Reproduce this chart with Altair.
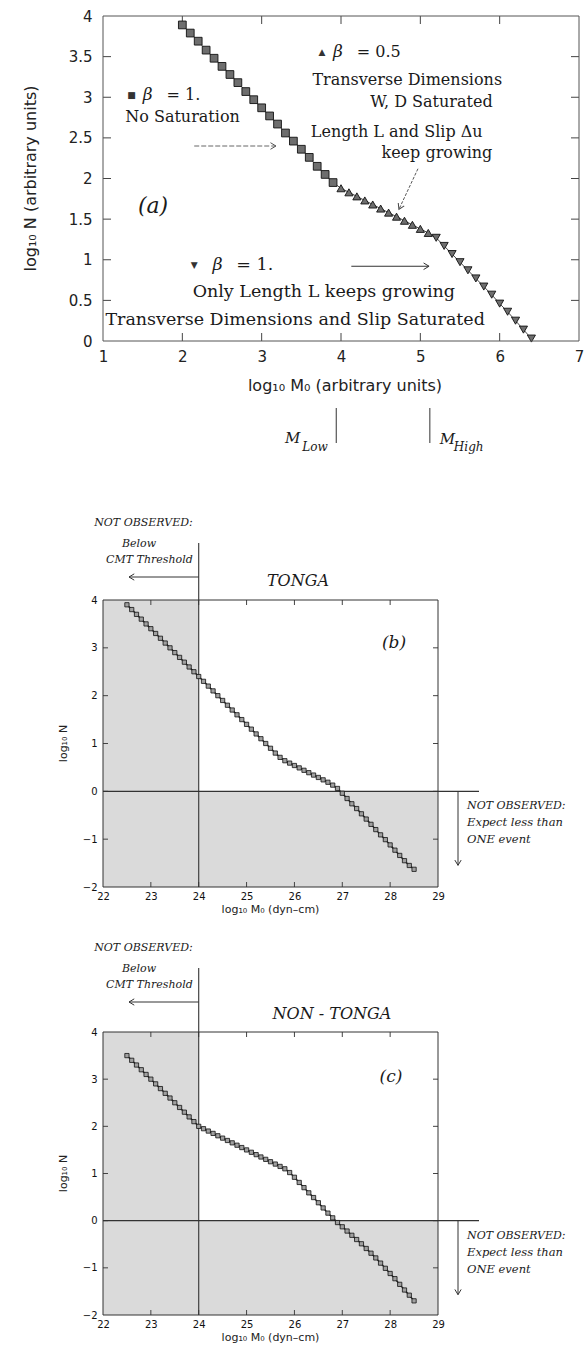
import altair as alt
import pandas as pd

# ---------------- Panel (a): model curves, arbitrary units ----------------
a_sq_x = [2.0, 2.1, 2.2, 2.3, 2.4, 2.5, 2.6, 2.7, 2.8, 2.9, 3.0, 3.1, 3.2, 3.3, 3.4, 3.5, 3.6, 3.7, 3.8, 3.9]
a_sq_y = [3.89, 3.79, 3.69, 3.58, 3.48, 3.38, 3.28, 3.18, 3.07, 2.97, 2.87, 2.77, 2.67, 2.56, 2.46, 2.36, 2.26, 2.15, 2.05, 1.95]
a_up_x = [4.0, 4.1, 4.2, 4.3, 4.4, 4.5, 4.6, 4.7, 4.8, 4.9, 5.0, 5.1]
a_up_y = [1.88, 1.83, 1.78, 1.73, 1.68, 1.63, 1.58, 1.53, 1.48, 1.43, 1.38, 1.33]
a_dn_x = [5.2, 5.3, 5.4, 5.5, 5.6, 5.7, 5.8, 5.9, 6.0, 6.1, 6.2, 6.3, 6.4]
a_dn_y = [1.27, 1.17, 1.07, 0.97, 0.87, 0.77, 0.67, 0.57, 0.46, 0.36, 0.25, 0.14, 0.03]
a_x_ticks = [1, 2, 3, 4, 5, 6, 7]
a_y_ticks = [0, 0.5, 1, 1.5, 2, 2.5, 3, 3.5, 4]
m_low = 3.94
m_high = 5.12

# ---------------- Panels (b), (c): log10 M0 (dyn-cm) ----------------
tonga_x = [22.5, 22.6, 22.7, 22.8, 22.9, 23.0, 23.1, 23.2, 23.3, 23.4,
           23.5, 23.6, 23.7, 23.8, 23.9, 24.0, 24.1, 24.2, 24.3, 24.4,
           24.5, 24.6, 24.7, 24.8, 24.9, 25.0, 25.1, 25.2, 25.3, 25.4,
           25.5, 25.6, 25.7, 25.8, 25.9, 26.0, 26.1, 26.2, 26.3, 26.4,
           26.5, 26.6, 26.7, 26.8, 26.9, 27.0, 27.1, 27.2, 27.3, 27.4,
           27.5, 27.6, 27.7, 27.8, 27.9, 28.0, 28.1, 28.2, 28.3, 28.4, 28.5]
tonga_y = [3.90, 3.80, 3.70, 3.60, 3.50, 3.40, 3.30, 3.20, 3.10, 3.00,
           2.90, 2.80, 2.70, 2.60, 2.50, 2.40, 2.30, 2.20, 2.10, 2.00,
           1.90, 1.80, 1.70, 1.60, 1.50, 1.40, 1.30, 1.20, 1.10, 1.00,
           0.90, 0.80, 0.71, 0.64, 0.59, 0.54, 0.49, 0.44, 0.39, 0.34,
           0.29, 0.24, 0.19, 0.13, 0.06, -0.04, -0.15, -0.26, -0.36, -0.47,
           -0.58, -0.69, -0.80, -0.91, -1.01, -1.12, -1.23, -1.34, -1.45, -1.55, -1.63]
nontonga_x = list(tonga_x)
nontonga_y = [3.50, 3.40, 3.30, 3.20, 3.10, 3.00, 2.90, 2.80, 2.70, 2.60,
              2.50, 2.40, 2.30, 2.20, 2.10, 2.00, 1.95, 1.90, 1.85, 1.80,
              1.75, 1.70, 1.65, 1.60, 1.55, 1.50, 1.45, 1.40, 1.35, 1.30,
              1.25, 1.20, 1.15, 1.10, 1.02, 0.92, 0.81, 0.70, 0.59, 0.49,
              0.38, 0.27, 0.16, 0.06, -0.04, -0.13, -0.22, -0.31, -0.40, -0.49,
              -0.59, -0.69, -0.79, -0.90, -1.01, -1.12, -1.23, -1.35, -1.47, -1.58, -1.70]
bc_x_ticks = [22, 23, 24, 25, 26, 27, 28, 29]
bc_y_ticks = [-2, -1, 0, 1, 2, 3, 4]
bc_x_domain = [22, 29]
bc_y_domain = [-2, 4]
cmt_threshold = 24
one_event = 0

# ---------------- styling ----------------
SANS = "DejaVu Sans"
SERIF = "DejaVu Serif"
INK = "#1a1a1a"
FRAME = "#444444"
SHADE = "#dadada"
CHEV = "M-1,-0.6L0,0L-1,0.6"
one = pd.DataFrame({"k": [0]})


def txt(s, x, y, size, font=SERIF, style="normal", align="left", baseline="middle", angle=0, color=INK):
    return alt.Chart(one).mark_text(text=s, align=align, baseline=baseline, fontSize=size, font=font,
                                    fontStyle=style, angle=angle, color=color).encode(
        x=alt.value(x), y=alt.value(y))


def seg(x1, y1, x2, y2, color=INK, width=1.0, dash=None):
    kw = dict(color=color, strokeWidth=width)
    if dash:
        kw["strokeDash"] = dash
    return alt.Chart(one).mark_rule(**kw).encode(x=alt.value(x1), y=alt.value(y1),
                                                 x2=alt.value(x2), y2=alt.value(y2))


def head(x, y, angle, color=INK, size=170):
    return alt.Chart(one).mark_point(shape=CHEV, filled=False, stroke=color, strokeWidth=1,
                                     size=size, angle=angle, opacity=1).encode(
        x=alt.value(x), y=alt.value(y))


def box(x1, y1, x2, y2, **kw):
    return alt.Chart(one).mark_rect(**kw).encode(x=alt.value(x1), y=alt.value(y1),
                                                 x2=alt.value(x2), y2=alt.value(y2))


def ticks_layers(xs, ys, X, Y, W, H, L, color=FRAME):
    dx = pd.DataFrame({"v": xs})
    dy = pd.DataFrame({"v": ys})
    return [
        alt.Chart(dx).mark_rule(color=color, strokeWidth=1).encode(x=X("v"), y=alt.value(0), y2=alt.value(L)),
        alt.Chart(dx).mark_rule(color=color, strokeWidth=1).encode(x=X("v"), y=alt.value(H - L), y2=alt.value(H)),
        alt.Chart(dy).mark_rule(color=color, strokeWidth=1).encode(y=Y("v"), x=alt.value(0), x2=alt.value(L)),
        alt.Chart(dy).mark_rule(color=color, strokeWidth=1).encode(y=Y("v"), x=alt.value(W - L), x2=alt.value(W)),
    ]


# ================= Panel (a) =================
W_A, H_A = 476, 325


def pxa(x):
    return (x - 1) / 6 * W_A


def pya(y):
    return (4 - y) / 4 * H_A


a_xs = alt.Scale(domain=[1, 7], nice=False, zero=False)
a_ys = alt.Scale(domain=[0, 4], nice=False, zero=False)
a_xax = alt.Axis(values=a_x_ticks, title=None, ticks=False, domain=False, grid=False, labelFlush=False,
                 labelPadding=8, labelFont=SANS, labelFontSize=15, labelColor="#222", format="~g")
a_yax = alt.Axis(values=a_y_ticks, title=None, ticks=False, domain=False, grid=False, labelFlush=False,
                 labelPadding=11, labelFont=SANS, labelFontSize=15, labelColor="#222", format="~g")


def XA(f):
    return alt.X(f, type="quantitative", scale=a_xs, axis=a_xax)


def YA(f):
    return alt.Y(f, type="quantitative", scale=a_ys, axis=a_yax)


a_all = pd.DataFrame({"x": a_sq_x + a_up_x + a_dn_x, "y": a_sq_y + a_up_y + a_dn_y})
a_line = alt.Chart(a_all).mark_line(color=INK, strokeWidth=0.8).encode(x=XA("x"), y=YA("y"))


def a_pts(xs, ys, shape, size):
    return alt.Chart(pd.DataFrame({"x": xs, "y": ys})).mark_point(
        shape=shape, filled=True, fill="#6e6e6e", stroke="#111", strokeWidth=0.9, size=size, opacity=1
    ).encode(x=XA("x"), y=YA("y"))


LOW_FS = 17.5
a_layers = [
    box(-100, -15, -99, 482, color="white"),
    *ticks_layers(a_x_ticks[1:-1], a_y_ticks[1:-1], XA, YA, W_A, H_A, 8),
    a_line,
    a_pts(a_sq_x, a_sq_y, "square", 60),
    a_pts(a_up_x, a_up_y, "triangle-up", 66),
    a_pts(a_dn_x, a_dn_y, "triangle-down", 66),
    box(0, 0, W_A, H_A, fillOpacity=0, stroke="#555", strokeWidth=1),
    # beta = 0.5 block
    txt("▲", pxa(3.76), pya(3.56), 9, font=SANS, align="center", color="#333"),
    txt("β", pxa(3.90), pya(3.56), 17, style="italic"),
    txt("=  0.5", pxa(4.20), pya(3.56), 16),
    txt("Transverse Dimensions", pxa(3.64), pya(3.21), 16),
    txt("W, D Saturated", pxa(4.37), pya(2.94), 16),
    txt("Length L and Slip Δu", pxa(3.62), pya(2.57), 16),
    txt("keep growing", pxa(4.51), pya(2.31), 16),
    seg(pxa(4.97), pya(2.12), pxa(4.73), pya(1.62), color="#444", width=0.9, dash=[3, 1.5]),
    head(pxa(4.73), pya(1.62), 115, color="#444", size=120),
    # beta = 1 (no saturation)
    txt("■", pxa(1.36), pya(3.03), 9, font=SANS, align="center", color="#333"),
    txt("β", pxa(1.50), pya(3.03), 17, style="italic"),
    txt("=  1.", pxa(1.80), pya(3.03), 16),
    txt("No Saturation", pxa(1.28), pya(2.76), 16),
    seg(pxa(2.15), pya(2.40), pxa(3.18), pya(2.40), color="#555", width=0.9, dash=[5, 2]),
    head(pxa(3.18), pya(2.40), 0, color="#555", size=120),
    txt("(a)", pxa(1.44), pya(1.66), 22, style="italic"),
    # beta = 1 (length only)
    txt("▼", pxa(2.15), pya(0.93), 9, font=SANS, align="center", color="#333"),
    txt("β", pxa(2.38), pya(0.93), 17.5, style="italic"),
    txt("=  1.", pxa(2.68), pya(0.93), LOW_FS),
    seg(pxa(4.13), pya(0.92), pxa(5.11), pya(0.92), color="#333", width=1),
    head(pxa(5.11), pya(0.92), 0, color="#333", size=120),
    txt("Only Length L keeps growing", pxa(2.13), pya(0.60), LOW_FS),
    txt("Transverse Dimensions and Slip Saturated", pxa(1.03), pya(0.26), LOW_FS),
    # axis titles
    txt("log₁₀ N (arbitrary units)", -72, H_A / 2, 16, font=SANS, align="center", angle=270, color="#222"),
    txt("log₁₀ M₀ (arbitrary units)", W_A / 2 + 4, H_A + 45, 16, font=SANS, align="center", color="#222"),
    # M_Low / M_High markers
    seg(pxa(m_low), H_A + 67, pxa(m_low), H_A + 102, color="#333", width=1),
    seg(pxa(m_high), H_A + 67, pxa(m_high), H_A + 102, color="#333", width=1),
    txt("M", pxa(m_low) - 36, H_A + 97, 15, style="italic", align="right"),
    txt("Low", pxa(m_low) - 34, H_A + 106, 12, style="italic"),
    txt("M", pxa(m_high) + 10, H_A + 98, 15, style="italic"),
    txt("High", pxa(m_high) + 24, H_A + 106, 12, style="italic"),
]
panel_a = alt.layer(*a_layers).properties(width=W_A, height=H_A)


# ================= Panels (b) and (c) =================
def panel_bc(xs, ys, W, H, name, name_x, name_y, tag, tag_x, tag_y, top_y, bottom_extent):
    xsc = alt.Scale(domain=bc_x_domain, nice=False, zero=False)
    ysc = alt.Scale(domain=bc_y_domain, nice=False, zero=False)
    xax = alt.Axis(values=bc_x_ticks, title=None, ticks=False, domain=False, grid=False, labelFlush=False,
                   labelPadding=4, labelFont=SANS, labelFontSize=10, labelColor="#111", format="d")
    yax = alt.Axis(values=bc_y_ticks, title=None, ticks=False, domain=False, grid=False, labelFlush=False,
                   labelPadding=6, labelFont=SANS, labelFontSize=10, labelColor="#111", format="d")

    def X(f):
        return alt.X(f, type="quantitative", scale=xsc, axis=xax)

    def Y(f):
        return alt.Y(f, type="quantitative", scale=ysc, axis=yax)

    def px(x):
        return (x - bc_x_domain[0]) / (bc_x_domain[1] - bc_x_domain[0]) * W

    def py(y):
        return (bc_y_domain[1] - y) / (bc_y_domain[1] - bc_y_domain[0]) * H

    shade = alt.Chart(pd.DataFrame({
        "x1": [bc_x_domain[0], cmt_threshold], "x2": [cmt_threshold, bc_x_domain[1]],
        "y1": [bc_y_domain[0], bc_y_domain[0]], "y2": [bc_y_domain[1], one_event]})
    ).mark_rect(color=SHADE).encode(x=X("x1"), x2="x2", y=Y("y1"), y2="y2")
    vline = alt.Chart(pd.DataFrame({"v": [cmt_threshold]})).mark_rule(color="#333", strokeWidth=1.1).encode(
        x=X("v"), y=alt.value(top_y + 20), y2=alt.value(H))
    hline = alt.Chart(pd.DataFrame({"v": [one_event]})).mark_rule(color="#333", strokeWidth=1.1).encode(
        y=Y("v"), x=alt.value(0), x2=alt.value(W + 41))
    df = pd.DataFrame({"x": xs, "y": ys})
    line = alt.Chart(df).mark_line(color=INK, strokeWidth=1.4).encode(x=X("x"), y=Y("y"))
    pts = alt.Chart(df).mark_point(shape="square", filled=True, fill="#a0a0a0", stroke="#111",
                                   strokeWidth=0.8, size=18, opacity=1).encode(x=X("x"), y=Y("y"))
    y0 = py(one_event)
    xt = px(cmt_threshold)
    layers = [
        box(-100, -100, -99, bottom_extent, color="white"),
        shade,
        *ticks_layers(bc_x_ticks[1:-1], bc_y_ticks[1:-1], X, Y, W, H, 5),
        vline, hline, line, pts,
        box(0, 0, W, H, fillOpacity=0, stroke="#333", strokeWidth=1),
        txt("NOT OBSERVED:", xt - 6, top_y, 11, style="italic", align="right"),
        txt("Below", 36, top_y + 21, 11, style="italic", align="center"),
        txt("CMT Threshold", xt - 6, top_y + 37, 11, style="italic", align="right"),
        seg(26, top_y + 54, xt, top_y + 54, color="#333", width=1),
        head(26, top_y + 54, 180, color="#333", size=110),
        txt(name, name_x, name_y, 16, style="italic", align="center"),
        txt(tag, tag_x, tag_y, 17, style="italic", align="center"),
        seg(W + 20, y0, W + 20, y0 + 74, color="#333", width=1),
        head(W + 20, y0 + 74, 90, color="#333", size=110),
        txt("NOT OBSERVED:", W + 29, y0 + 15, 11, style="italic"),
        txt("Expect less than", W + 29, y0 + 32, 11.5, style="italic"),
        txt("ONE event", W + 29, y0 + 49, 11.5, style="italic"),
        txt("log₁₀ M₀ (dyn–cm)", W / 2, H + 23, 11, font=SANS, align="center", color="#222"),
        txt("log₁₀ N", -39, H / 2, 11, font=SANS, align="center", angle=270, color="#222"),
    ]
    return alt.layer(*layers).properties(width=W, height=H)


panel_b = panel_bc(tonga_x, tonga_y, 335, 287, "TONGA", 195, -19, "(b)", 291, 43, -77, 330)
panel_c = panel_bc(nontonga_x, nontonga_y, 335, 283, "NON  -  TONGA", 229, -18, "(c)", 288, 45, -84, 309)

chart = alt.vconcat(panel_a, panel_b, panel_c, spacing=0).properties(
    padding={"left": 2, "top": 0, "right": 0, "bottom": 0},
    background="white",
).configure_view(stroke="transparent")

chart.save("out.html", embed_options={"renderer": "svg", "actions": False})
